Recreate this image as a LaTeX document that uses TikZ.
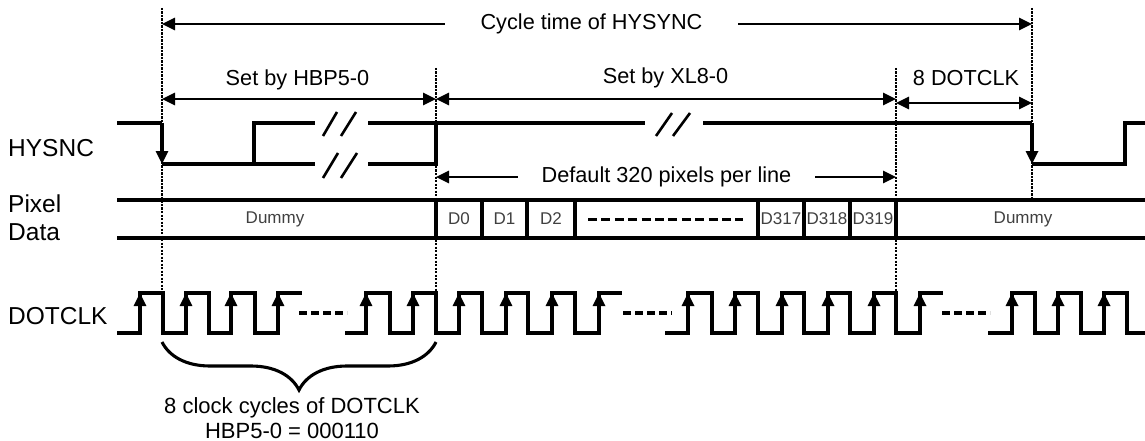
\documentclass[tikz,border=0pt]{standalone}
\usepackage{fontspec}
\setmainfont{Liberation Sans}
\usepackage{tikz}
\usetikzlibrary{arrows.meta}
\usetikzlibrary{decorations.pathreplacing}
\tikzset{>={Triangle[width=12pt,length=13pt]}}
\tikzset{
  toplbl/.style={font=\fontsize{21.7pt}{25pt}\selectfont, inner sep=0pt},
  sidelbl/.style={font=\fontsize{24.5pt}{28pt}\selectfont, inner sep=0pt, anchor=base west},
  cell/.style={font=\fontsize{17pt}{20pt}\selectfont, text=black!75, inner sep=0pt},
  sig/.style={line width=3.1pt},
  dim/.style={line width=2.7pt},
  dotline/.style={line width=2.4pt, dash pattern=on 2.2pt off 1.3pt},
}

\begin{document}
\begin{tikzpicture}[x=1pt, y=-1pt]
    \useasboundingbox (0,0) rectangle (1145,441);

    % dotted timing marks
    \coordinate (mA1) at (162,8);   \coordinate (mA2) at (162,293);
    \coordinate (mB1) at (436,68);  \coordinate (mB2) at (436,293);
    \coordinate (mC1) at (896,68);  \coordinate (mC2) at (896,293);
    \coordinate (mD1) at (1032,8);  \coordinate (mD2) at (1032,200);
    \draw[dotline] (mA1) -- (mA2);
    \draw[dotline] (mB1) -- (mB2);
    \draw[dotline] (mC1) -- (mC2);
    \draw[dotline] (mD1) -- (mD2);

    % dimension arrows
    \node[toplbl, inner xsep=35.5pt] (cyc) at (591.5,24) {Cycle time of HYSYNC};
    \coordinate (cycL) at (162,24);
    \coordinate (cycR) at (1032,24);
    \draw[dim,->] (cyc) -- (cycL);
    \draw[dim,->] (cyc) -- (cycR);

    \node[toplbl] (hbp) at (297.5,80) {Set by HBP5-0};
    \node[toplbl] (xl) at (665.5,78) {Set by XL8-0};
    \node[toplbl] (dot8) at (966,78) {8 DOTCLK};
    \coordinate (hbpL) at (162,99);  \coordinate (hbpR) at (436,99);
    \coordinate (xlL) at (436,99);   \coordinate (xlR) at (896,99);
    \coordinate (dot8L) at (896,103); \coordinate (dot8R) at (1032,103);
    \draw[dim,<->] (hbpL) -- (hbpR);
    \draw[dim,<->] (xlL) -- (xlR);
    \draw[dim,<->] (dot8L) -- (dot8R);

    \node[toplbl, inner xsep=23.6pt] (dflt) at (666.5,177) {Default 320 pixels per line};
    \coordinate (dfltL) at (436,177);
    \coordinate (dfltR) at (896,177);
    \draw[dim,->] (dflt) -- (dfltL);
    \draw[dim,->] (dflt) -- (dfltR);

    % signal names
    \node[sidelbl] (hsynclbl) at (8,157) {HYSNC};
    \node[sidelbl] (pixlbl) at (8,212) {Pixel};
    \node[sidelbl] (datalbl) at (8,240) {Data};
    \node[sidelbl] (clklbl) at (8,324) {DOTCLK};

    % HYSNC
    \draw[sig] (117,123) -- (162,123);
    \draw[sig,->] (162,123) -- (162,164);
    \draw[sig] (162,164) -- (315,164);
    \draw[sig] (254,164) -- (254,123) -- (315,123);
    \draw[sig] (368,164) -- (436,164) -- (436,123);
    \draw[sig] (368,123) -- (645,123);
    \draw[sig] (703,123) -- (1032,123);
    \draw[sig,->] (1032,123) -- (1032,164);
    \draw[sig] (1032,164) -- (1125,164) -- (1125,123) -- (1145,123);
    % breaks
    \draw[sig, line width=2.6pt] (323,136) -- (337,112) (341,136) -- (356,112);
    \draw[sig, line width=2.6pt] (323,178) -- (338,153) (341,178) -- (357,153);
    \draw[sig, line width=2.6pt] (656,136) -- (672,113) (673,136) -- (690,113);

    % Pixel Data
    \draw[sig] (117,200) -- (1145,200);
    \draw[sig] (117,238) -- (1145,238);
    \draw[line width=4pt] (436,200) -- (436,238);
    \draw[line width=4pt] (896,200) -- (896,238);
    \draw[sig] (482,200) -- (482,238);
    \draw[sig] (527,200) -- (527,238);
    \draw[sig] (575,200) -- (575,238);
    \draw[sig] (758,200) -- (758,238);
    \draw[sig] (804,200) -- (804,238);
    \draw[sig] (850,200) -- (850,238);
    \node[cell] (dumA) at (275,219) {Dummy};
    \node[cell] (d0) at (459,219) {D0};
    \node[cell] (d1) at (504.5,219) {D1};
    \node[cell] (d2) at (551,219) {D2};
    \node[cell] (d317) at (781,219) {D317};
    \node[cell] (d318) at (827,219) {D318};
    \node[cell] (d319) at (873,219) {D319};
    \node[cell] (dumB) at (1023,219) {Dummy};
    \draw[line width=3pt, dash pattern=on 9pt off 4.4pt] (588,219) -- (743,219);

    % DOTCLK
    \draw[sig] (117,333) -- (140,333) -- (140,293) -- (163,293) -- (163,333)
      -- (186,333) -- (186,293) -- (209,293) -- (209,333) -- (231,333)
      -- (231,293) -- (255,293) -- (255,333) -- (278,333) -- (278,293) -- (302,293);
    \draw[sig] (345,333) -- (366,333) -- (366,293) -- (390,293) -- (390,333)
      -- (413,333) -- (413,293) -- (436,293) -- (436,333) -- (459,333)
      -- (459,293) -- (482,293) -- (482,333) -- (506,333) -- (506,293)
      -- (528,293) -- (528,333) -- (552,333) -- (552,293) -- (575,293)
      -- (575,333) -- (599,333) -- (599,293) -- (622,293);
    \draw[sig] (665,333) -- (688,333) -- (688,293) -- (712,293) -- (712,333)
      -- (735,333) -- (735,293) -- (758,293) -- (758,333) -- (782,333)
      -- (782,293) -- (804,293) -- (804,333) -- (828,333) -- (828,293)
      -- (850,293) -- (850,333) -- (874,333) -- (874,293) -- (896,293)
      -- (896,333) -- (920,333) -- (920,293) -- (943,293);
    \draw[sig] (988,333) -- (1012,333) -- (1012,293) -- (1035,293) -- (1035,333)
      -- (1058,333) -- (1058,293) -- (1081,293) -- (1081,333) -- (1104,333)
      -- (1104,293) -- (1127,293) -- (1127,333) -- (1145,333);
    \foreach \x in {140,186,231,278,366,413,459,506,552,599,688,735,782,828,874,920,1012,1058,1104}
      \draw[sig,->] (\x,333) -- (\x,293);
    \draw[sig, dash pattern=on 8pt off 4pt] (299,313) -- (347,313);
    \draw[sig, dash pattern=on 8pt off 4pt] (623,313) -- (672,313);
    \draw[sig, dash pattern=on 8pt off 4pt] (942,313) -- (990,313);

    % brace
    \coordinate (brL) at (162,342);
    \coordinate (brR) at (436,342);
    \draw[sig, decorate, decoration={brace, mirror, amplitude=48pt}] (brL) -- (brR);
    \node[toplbl, align=center, font=\fontsize{22pt}{25pt}\selectfont] (brlbl) at (292,418)
      {8 clock cycles of DOTCLK\\HBP5-0 = 000110};
\end{tikzpicture}
\end{document}
